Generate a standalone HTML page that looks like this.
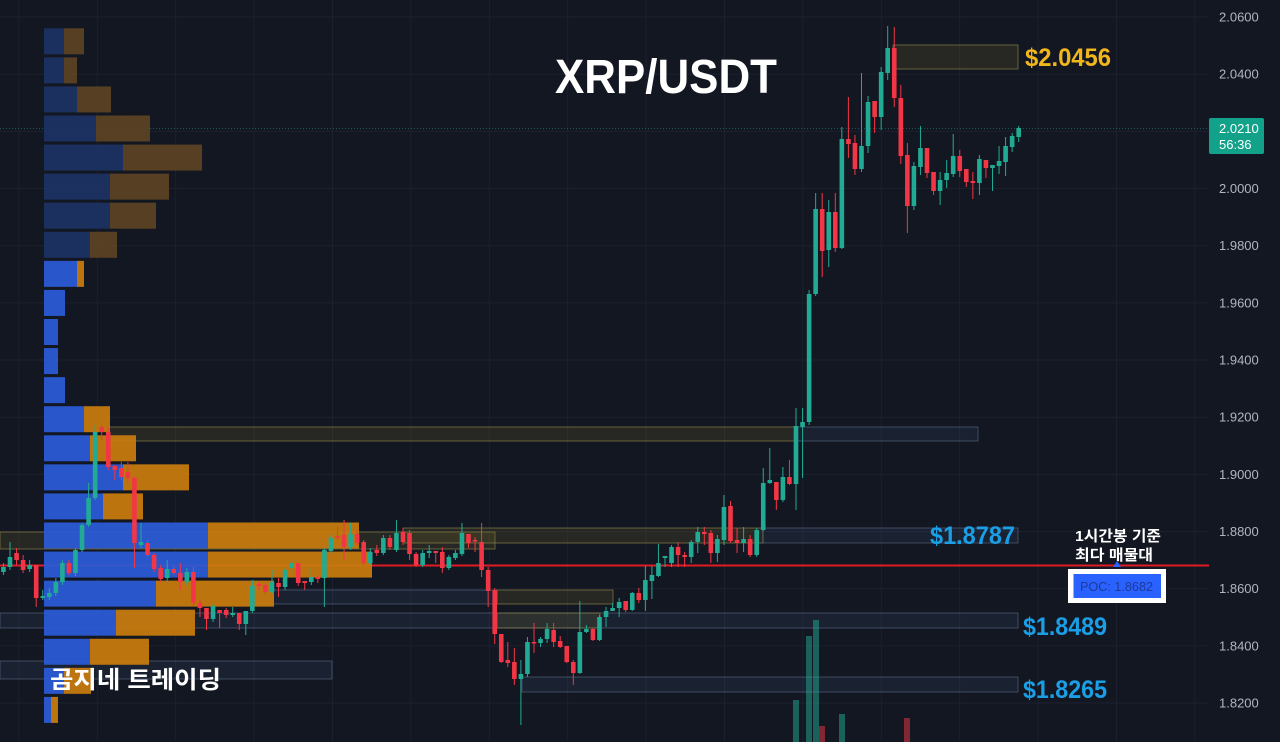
<!DOCTYPE html>
<html><head><meta charset="utf-8">
<style>
html,body{margin:0;padding:0;background:#131722;}
svg{display:block;}
text{font-family:"Liberation Sans","Noto Sans CJK KR",sans-serif;}
</style></head>
<body>
<svg id="s" width="1280" height="742" viewBox="0 0 1280 742" xmlns="http://www.w3.org/2000/svg">
<rect x="0" y="0" width="1280" height="742" fill="#131722"/>
<g id="grid"></g>
<line x1="0" y1="128.5" x2="1209" y2="128.5" stroke="#22ab94" stroke-opacity="0.45" stroke-dasharray="1 2"/>
<g id="zones"></g>
<line x1="0" y1="565.5" x2="1209" y2="565.5" stroke="#e01b24" stroke-width="2"/>
<g id="prof" opacity="0.93"></g>
<g id="vol"></g>
<g id="candles"></g>

<!-- price axis -->
<g fill="#b2b5be" font-size="13">
<text x="1219" y="21.5">2.0600</text>
<text x="1219" y="78.7">2.0400</text>
<text x="1219" y="193">2.0000</text>
<text x="1219" y="250.2">1.9800</text>
<text x="1219" y="307.4">1.9600</text>
<text x="1219" y="364.5">1.9400</text>
<text x="1219" y="421.7">1.9200</text>
<text x="1219" y="478.9">1.9000</text>
<text x="1219" y="536">1.8800</text>
<text x="1219" y="593.2">1.8600</text>
<text x="1219" y="650.4">1.8400</text>
<text x="1219" y="707.5">1.8200</text>
</g>
<rect x="1209" y="118" width="55" height="36" rx="2" fill="#12a28a"/>
<text x="1219" y="133" fill="#ffffff" font-size="13">2.0210</text>
<text x="1219" y="149" fill="#ffffff" font-size="13">56:36</text>

<!-- title -->
<text x="555" y="93" fill="#ffffff" font-size="48" font-weight="bold" textLength="222" lengthAdjust="spacingAndGlyphs">XRP/USDT</text>

<!-- level labels -->
<text x="1025" y="66" fill="#f2b61d" font-size="25" font-weight="bold" textLength="86" lengthAdjust="spacingAndGlyphs">$2.0456</text>
<text x="930" y="544" fill="#1a9fe6" font-size="25" font-weight="bold" textLength="85" lengthAdjust="spacingAndGlyphs">$1.8787</text>
<text x="1023" y="635" fill="#1a9fe6" font-size="25" font-weight="bold" textLength="84" lengthAdjust="spacingAndGlyphs">$1.8489</text>
<text x="1023" y="698" fill="#1a9fe6" font-size="25" font-weight="bold" textLength="84" lengthAdjust="spacingAndGlyphs">$1.8265</text>

<!-- korean notes -->
<text x="1075" y="541" fill="#ffffff" font-size="15" font-weight="bold" textLength="86" lengthAdjust="spacingAndGlyphs">1시간봉 기준</text>
<text x="1075" y="560" fill="#ffffff" font-size="15" font-weight="bold" textLength="78" lengthAdjust="spacingAndGlyphs">최다 매물대</text>
<text x="50" y="688" fill="#ffffff" font-size="24" font-weight="bold" textLength="171" lengthAdjust="spacingAndGlyphs">곰지네 트레이딩</text>

<!-- POC box -->
<rect x="1068" y="569" width="98" height="34" fill="#ffffff"/>
<rect x="1073.5" y="574" width="87.5" height="24" fill="#2962ff"/>
<polygon points="1113,567 1121,567 1117,561" fill="#2962ff"/>
<text x="1080" y="591" fill="#1c3a9a" font-size="13" textLength="73" lengthAdjust="spacingAndGlyphs">POC: 1.8682</text>
</svg>
<script>
(function(){
var NS="http://www.w3.org/2000/svg";
function el(parent,tag,attrs){var e=document.createElementNS(NS,tag);for(var k in attrs)e.setAttribute(k,attrs[k]);document.getElementById(parent).appendChild(e);return e;}
// grid
var hy=[17,74.2,131.3,188.5,245.7,302.9,360,417.2,474.4,531.5,588.7,645.9,703];
hy.forEach(function(y){el("grid","line",{x1:0,y1:y,x2:1209,y2:y,stroke:"#1d212e","stroke-width":1});});
for(var x=18.9;x<1209;x+=78.4){el("grid","line",{x1:x,y1:0,x2:x,y2:742,stroke:"#1d212e","stroke-width":1});}
// volume profile rows: [blueEnd, orangeEnd, bright]
var rows=[[64,84,0],[64,77,0],[77,111,0],[96,150,0],[123,202,0],[110,169,0],[110,156,0],[90,117,0],
[77,84,1],[65,65,1],[58,58,1],[58,58,1],[65,65,1],[84,110,1],[90,136,1],[123,189,1],[103,143,1],
[208,359,1],[208,372,1],[156,274,1],[116,195,1],[90,149,1],[64,91,1],[51,58,1]];
rows.forEach(function(r,n){
  var y=28.3+29.07*n;
  var bc=r[2]?"#2b5bd7":"#1d3264", oc=r[2]?"#c97c0e":"#5c4323";
  el("prof","rect",{x:44,y:y,width:r[0]-44,height:26,fill:bc});
  if(r[1]>r[0]) el("prof","rect",{x:r[0],y:y,width:r[1]-r[0],height:26,fill:oc});
});
// zones
function zone(x1,x2,y1,y2,t){
  var f=t?"rgba(120,112,40,0.2)":"rgba(60,85,120,0.18)";
  var s=t?"rgba(150,140,75,0.6)":"rgba(95,115,145,0.55)";
  el("zones","rect",{x:x1,y:y1,width:x2-x1,height:y2-y1,fill:f,stroke:s,"stroke-width":1});
}
zone(893,1018,45,69,1);
zone(108,795,427,441,1);
zone(795,978,427,441,0);
zone(0,495,532,549,1);
zone(403,763,528,543,1);
zone(763,1018,528,543,0);
zone(250,497,590,604,0);
zone(497,613,590,604,1);
zone(0,1018,613,628,0);
zone(497,600,613,628,1);
zone(0,332,661,679,0);
zone(522,1018,677,692,0);
// volume bars
var G="#22ab94",R="#f23645";
[[793,700,G],[806,636,G],[813,620,G],[819,726,R],[839,714,G],[904,718,R]].forEach(function(v){
  el("vol","rect",{x:v[0],y:v[1],width:6,height:742-v[1],fill:v[2],"fill-opacity":0.5});
});
// candles [i, wickTop, wickBot, bodyTop, bodyBot, up]
var C=[
[-1,548,566,553,562,0],[0,563,575,567,572,1],[1,542,570,557,567,1],[2,548,565,553,560,0],[3,555,573,560,570,0],
[4,560,572,565,569,1],[5,565,607,565,598,0],[6,590,600,596,598,1],[7,588,600,593,597,1],[8,578,596,582,593,1],
[9,560,585,563,582,1],[10,560,575,563,573,0],[11,548,576,550,573,1],[12,523,552,525,550,1],[13,483,527,498,525,1],
[14,425,500,432,498,1],[15,425,440,427,432,0],[16,427,470,432,467,0],[17,465,480,466,470,0],[18,462,480,468,477,0],
[19,462,482,472,478,0],[20,477,568,478,543,0],[21,523,548,542,545,1],[22,540,557,543,555,0],[23,553,572,555,569,0],
[24,565,582,568,579,0],[25,560,582,569,578,1],[26,567,575,569,573,0],[27,563,590,573,582,0],[28,568,585,572,582,1],
[29,567,606,572,603,0],[30,600,617,603,608,0],[31,608,630,608,619,0],[32,604,622,606,619,1],[33,610,628,610,613,0],
[34,608,618,610,615,0],[35,607,617,613,615,1],[36,613,630,613,624,0],[37,611,635,611,624,1],[38,580,613,586,611,1],
[39,582,590,584,586,0],[40,583,595,585,592,0],[41,570,594,582,592,1],[42,578,597,583,587,0],[43,568,590,570,587,1],
[44,560,572,563,568,1],[45,563,586,563,583,0],[46,581,590,581,583,0],[47,568,585,577,582,1],[48,575,583,577,579,0],
[49,548,607,550,578,1],[50,535,553,538,551,1],[51,527,540,536,538,0],[52,520,560,535,547,0],[53,523,550,534,547,1],
[54,530,546,534,543,0],[55,540,566,542,563,0],[56,548,565,552,563,1],[57,545,556,550,553,0],[58,535,555,538,553,1],
[59,535,550,538,547,0],[60,520,552,533,550,1],[61,528,545,532,542,0],[62,530,560,533,554,0],[63,552,567,554,565,0],
[64,550,567,553,565,1],[65,545,558,551,553,1],[66,551,563,551,553,0],[67,547,573,552,568,0],[68,555,570,557,568,1],
[69,550,560,553,558,1],[70,523,556,533,554,1],[71,534,548,534,543,0],[72,537,552,540,541,0],[73,523,577,542,570,0],
[74,567,607,570,591,0],[75,588,644,590,634,0],[76,634,663,634,662,0],[77,642,667,660,663,0],[78,648,685,662,679,0],
[79,660,725,674,679,1],[80,637,677,642,674,1],[81,623,653,642,643,0],[82,637,647,639,643,1],[83,623,643,629,639,1],
[84,623,647,630,642,0],[85,636,648,641,647,0],[86,646,663,646,662,0],[87,660,685,662,673,0],[88,601,674,632,673,1],
[89,625,633,629,632,1],[90,628,641,629,640,0],[91,615,641,617,640,1],[92,607,627,611,617,1],[93,603,611,608,611,1],
[94,598,617,602,608,1],[95,601,612,601,610,0],[96,592,611,593,610,1],[97,588,603,593,600,0],[98,566,611,580,600,1],
[99,566,599,575,581,1],[100,544,577,563,576,1],[101,556,567,556,558,1],[102,545,567,547,563,1],[103,542,567,547,555,0],
[104,552,567,555,557,0],[105,540,563,542,557,1],[106,527,553,532,542,1],[107,527,545,532,534,0],[108,530,563,533,553,0],
[109,535,562,539,553,1],[110,495,545,507,540,1],[111,501,543,506,541,0],[112,528,553,540,543,0],[113,527,552,539,543,1],
[114,535,557,539,555,0],[115,528,557,530,555,1],[116,468,531,483,530,1],[117,448,484,480,483,1],[118,482,510,482,500,0],
[119,467,502,477,500,1],[120,460,485,477,484,0],[121,408,510,426,484,1],[122,408,478,422,427,1],[123,290,425,294,422,1],
[124,193,296,209,294,1],[125,193,277,209,251,0],[126,200,267,212,250,1],[127,193,252,212,248,0],[128,127,249,139,248,1],
[129,97,158,139,144,0],[130,135,175,143,169,0],[131,73,172,146,169,1],[132,96,153,102,146,1],[133,101,133,101,117,0],
[134,67,130,72,117,1],[135,26,80,48,73,1],[136,27,107,48,98,0],[137,85,164,98,156,0],[138,143,233,155,206,0],
[139,162,210,166,206,1],[140,126,175,148,167,1],[141,148,178,148,173,0],[142,172,195,172,191,0],[143,172,205,180,191,1],
[144,160,188,173,180,1],[145,134,177,156,174,1],[146,150,177,156,171,0],[147,169,187,169,182,0],[148,172,199,181,183,0],
[149,155,195,159,183,1],[150,160,178,160,168,0],[151,165,191,165,168,1],[152,146,174,161,166,1],[153,137,176,146,162,1],
[154,133,152,136,147,1],[155,126,142,128,137,1]
];
C.forEach(function(c){
  var x=3.45+6.55*c[0], col=c[5]?G:R;
  el("candles","line",{x1:x,y1:c[1],x2:x,y2:c[2],stroke:col,"stroke-width":1});
  el("candles","rect",{x:x-2.3,y:c[3],width:4.6,height:Math.max(c[4]-c[3],1.5),fill:col});
});
})();
</script>
</body></html>
